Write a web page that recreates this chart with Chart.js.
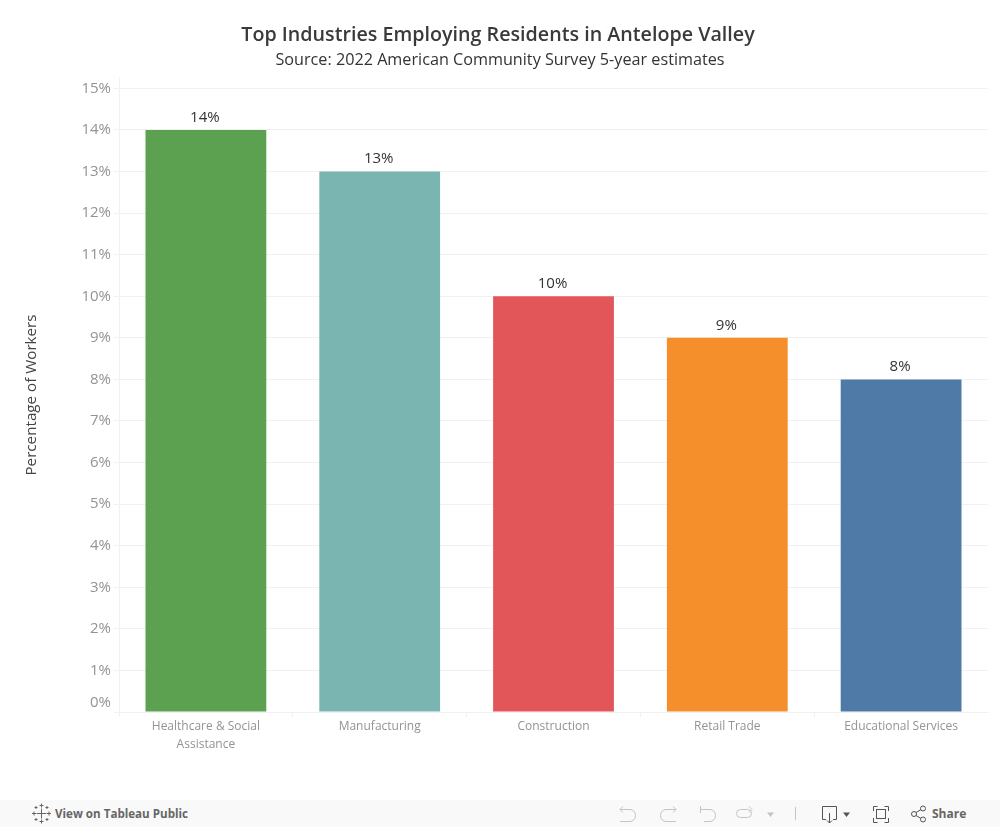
<!DOCTYPE html>
<html>
<head>
<meta charset="utf-8">
<title>Top Industries Employing Residents in Antelope Valley</title>
<script src="https://cdn.jsdelivr.net/npm/chart.js@4/dist/chart.umd.min.js"></script>
<style>
	html, body { margin: 0; padding: 0; background: #fff; overflow: hidden; }
	#chart { display: block; }
	#toolbar { position: absolute; left: 0; top: 800px; width: 1000px; height: 27px; background: #f9f9f9; font: bold 12px 'Open Sans', sans-serif; color: #666; }
	#toolbar svg { position: absolute; left: 0; top: 0; }
	#toolbar span { position: absolute; top: 5px; line-height: 17px; }
</style>
</head>
<body>
<canvas id="chart" width="1000" height="800"></canvas>
<div id="toolbar">
	<svg width="1000" height="27" fill="none" stroke-width="1">
		<g transform="translate(0,-800)">
			<g stroke="#666">
				<path d="M36.500 813.500h10M41.500 808.500v10"/>
				<path d="M39.500 805.500h4M41.500 803.500v4M39.500 821.500h4M41.500 819.500v4M32 813.500h4M34 811.500v4M47 813.500h4M49 811.500v4"/>
				<path d="M34.500 807.500h3M36 806v3M45.500 807.500h3M47 806v3M34.500 819.500h3M36 818v3M45.500 819.500h3M47 818v3"/>
			</g>
			<g stroke="#c4c4c4">
				<path d="M623 806.500l-3 3 3 3M620 809.500h10a5.500 6 0 0 1 0 12h-10"/>
				<path d="M673 806.500l3 3-3 3M676 809.500h-10a5.500 6 0 0 0 0 12h10"/>
				<path d="M700.500 806v7M700.500 809.500h9.500a5.500 6 0 0 1 0 12h-6"/>
				<rect x="736.500" y="809.500" width="15" height="8" rx="4"/>
				<path d="M749 806.500l3 3-3 3"/>
				<path d="M795.500 807v13"/>
			</g>
			<path d="M767 812.500h7l-3.500 4.500z" fill="#c4c4c4"/>
			<g stroke="#555">
				<path d="M826 819.500h-3.500v-13h14v13h-3.500M829.500 813v10M827 820.500l2.500 2.500 2.500-2.500"/>
				<path d="M873.500 811v-4.500h4M884.500 806.500h4v4.500M888.500 818v4.500h-4M877.500 822.500h-4v-4.500"/>
				<rect x="876.500" y="809.500" width="9" height="9"/>
				<circle cx="914" cy="814" r="2.500"/>
				<circle cx="923" cy="808.500" r="2.500"/>
				<circle cx="923" cy="819.500" r="2.500"/>
				<path d="M916 812.500l5-3M916 815.500l5 3"/>
			</g>
			<path d="M843 812.500h7l-3.500 4.500z" fill="#555"/>
		</g>
	</svg>
	<span style="left:55px;font-size:11.6px">View on Tableau Public</span>
	<span style="left:932px">Share</span>
</div>
<script>
'use strict'

const categories = [['Healthcare & Social', 'Assistance'], 'Manufacturing', 'Construction', 'Retail Trade', 'Educational Services'];
const workerShare = [14, 13, 10, 9, 8];
const barColors = ['#5BA150', '#7BB5B1', '#E25659', '#F58F2C', '#4F79A7'];
const yTicks = [0, 1, 2, 3, 4, 5, 6, 7, 8, 9, 10, 11, 12, 13, 14, 15];

const fontName = "'Open Sans', sans-serif";
const lineColor = '#f1f1f1';
const tickColor = '#939393';

// the headings centre on the full page, not on the padded chart box
const centerHeadings = {
	id: 'centerHeadings',
	afterLayout(chart) {
		chart.boxes.forEach((box) => {
			if (box.position === 'top') {
				box.right = box === chart.titleBlock ? 996 : 1000;
			}
		});
	},
};

// tableau pushes the 0% label up off the axis, so it is drawn by hand
const zeroLabel = {
	id: 'zeroLabel',
	afterDraw(chart) {
		const ctx = chart.ctx;
		const y = chart.scales.y;
		ctx.save();
		ctx.font = '15px ' + fontName;
		ctx.fillStyle = tickColor;
		ctx.textAlign = 'right';
		ctx.textBaseline = 'middle';
		ctx.fillText('0%', y.right - 8, y.getPixelForValue(0) - 9);
		ctx.restore();
	},
};

const barLabels = {
	id: 'barLabels',
	afterDatasetsDraw(chart) {
		const ctx = chart.ctx;
		ctx.save();
		ctx.font = '15px ' + fontName;
		ctx.fillStyle = '#333';
		ctx.textAlign = 'center';
		ctx.textBaseline = 'bottom';
		chart.getDatasetMeta(0).data.forEach((bar, i) => {
			ctx.fillText(workerShare[i] + '%', bar.x - 1, bar.y - 5);
		});
		ctx.restore();
	},
};

new Chart(document.getElementById('chart'), {
	type: 'bar',
	data: {
		labels: categories,
		datasets: [
			{
				data: workerShare,
				backgroundColor: barColors,
				barPercentage: 0.695,
				categoryPercentage: 1,
			},
		],
	},
	plugins: [centerHeadings, zeroLabel, barLabels],
	options: {
		responsive: false,
		animation: false,
		layout: {
			padding: { left: 0, right: 12, top: 0, bottom: 0 },
		},
		plugins: {
			legend: { display: false },
			tooltip: { enabled: false },
			title: {
				display: true,
				text: 'Top Industries Employing Residents in Antelope Valley',
				color: '#3a3a3a',
				font: { family: fontName, size: 19.7, weight: '600' },
				padding: { top: 24, bottom: 0 },
			},
			subtitle: {
				display: true,
				text: 'Source: 2022 American Community Survey 5-year estimates',
				color: '#333',
				font: { family: fontName, size: 16.2, weight: '400' },
				padding: { top: 3, bottom: 7.9 },
			},
		},
		scales: {
			x: {
				offset: true,
				afterFit(scale) {
					scale.height = 88;
				},
				border: { color: lineColor },
				grid: {
					drawOnChartArea: false,
					tickLength: 5,
					color: lineColor,
					tickColor: (ctx) => (ctx.tick ? lineColor : 'transparent'),
				},
				ticks: {
					color: tickColor,
					font: { family: fontName, size: 12, lineHeight: 1.5 },
					padding: 1,
					maxRotation: 0,
				},
			},
			y: {
				min: 0,
				max: 15.25,
				afterBuildTicks(scale) {
					scale.ticks = yTicks.map((v) => ({ value: v }));
				},
				afterFit(scale) {
					scale.width = 119;
				},
				border: { color: lineColor },
				grid: {
					color: lineColor,
					tickLength: 5,
				},
				ticks: {
					color: tickColor,
					font: { family: fontName, size: 15 },
					padding: 3,
					callback: (v) => (v === 0 ? '' : v + '%'),
				},
				title: {
					display: true,
					text: 'Percentage of Workers',
					color: '#444',
					font: { family: fontName, size: 15.2 },
					padding: { top: 23, bottom: 0 },
				},
			},
		},
	},
});
</script>
</body>
</html>
